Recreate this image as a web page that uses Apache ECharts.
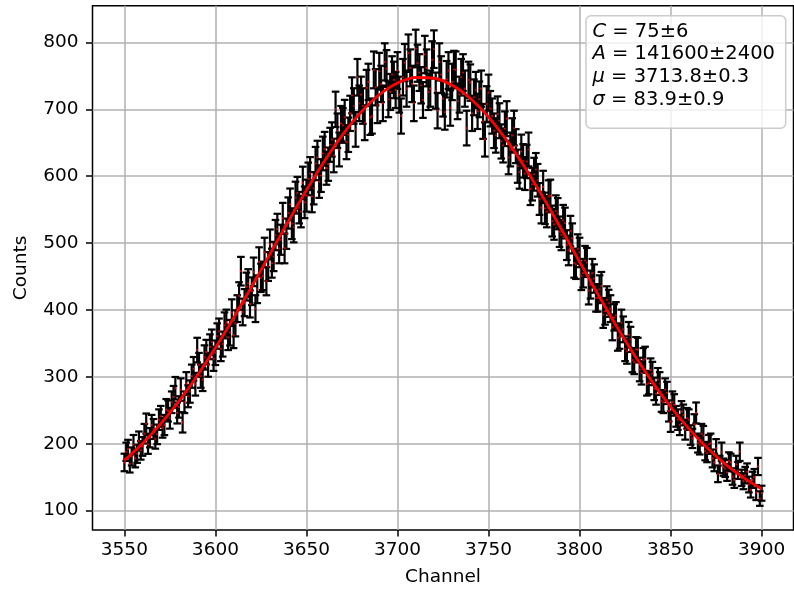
<!DOCTYPE html>
<html>
<head>
<meta charset="utf-8">
<script src="https://cdn.jsdelivr.net/npm/echarts@6/dist/echarts.min.js"></script>
<style>html,body{margin:0;padding:0;background:#fff;}#c{width:794px;height:593px;}</style>
</head>
<body>
<div id="c"></div>
<script>
// Channel range (one point per channel)
const firstChannel = 3550;
const lastChannel = 3900;
// Counts, rows of 10 channels starting at 3550, 3560, ...
const counts = [
172,188,192,170,181,199,178,185,204,190,
196,215,230,199,209,228,222,207,214,236,
241,224,228,251,249,238,262,270,283,246,
255,281,232,262,290,271,278,301,312,289,
340,318,301,296,329,337,318,345,352,327,
336,361,368,342,349,377,381,359,366,396,
362,380,402,421,458,397,411,435,440,409,
428,457,402,431,472,448,451,486,443,465,
498,470,480,512,521,492,505,537,492,514,
545,558,529,524,568,575,553,547,590,561,
571,596,604,570,582,619,628,592,601,634,
641,612,618,647,655,631,700,668,640,679,
676,688,651,662,694,721,705,670,748,709,
722,705,680,732,741,688,690,759,733,706,
757,738,709,771,761,715,726,752,744,729,
758,722,690,748,770,731,784,762,738,709,
791,769,755,736,714,782,762,726,731,774,
790,728,698,771,752,716,696,745,758,702,
741,760,759,712,722,748,755,731,672,744,
740,694,718,729,697,715,731,682,655,708,
725,701,690,668,661,693,683,652,646,671,
686,628,640,661,672,645,615,606,637,623,
604,622,640,581,588,603,610,594,566,553,
584,552,547,570,571,533,528,548,544,517,
512,534,530,497,489,518,507,470,468,491,
486,451,455,474,471,429,438,455,447,418,
418,431,436,393,398,415,410,402,374,389,
392,358,361,381,371,342,338,363,356,325,
322,341,340,311,306,325,327,289,291,310,
305,282,275,296,290,264,262,281,276,249,
233,262,258,241,236,228,248,243,221,238,
236,213,208,229,246,201,198,215,212,189,
186,199,201,178,172,193,155,169,188,165,
163,157,174,172,151,146,169,160,188,149,
144,153,158,139,131,146,150,127,166,118,
126];
// Fit curve
const fitX = [3550,3560,3570,3580,3590,3600,3610,3620,3630,3640,3650,3660,3670,3680,3690,3700,3710,3720,3730,3740,3750,3760,3770,3780,3790,3800,3810,3820,3830,3840,3850,3860,3870,3880,3890,3900];
const fitY = [175.1,200.4,230.0,263.8,301.7,343.4,388.2,435.4,483.9,532.3,579.2,623.2,662.5,695.8,721.8,739.3,747.6,746.5,735.9,716.3,688.5,653.6,613.0,568.2,520.8,472.2,423.9,377.2,333.0,292.2,255.3,222.5,194.0,169.6,149.2,132.4];
const xTicks = [3550,3600,3650,3700,3750,3800,3850,3900];
const yTicks = [100,200,300,400,500,600,700,800];
const fitLines = [
  ['C', ' = 75±6'],
  ['A', ' = 141600±2400'],
  ['μ', ' = 3713.8±0.3'],
  ['σ', ' = 83.9±0.9']
];

const FONT = 'DejaVu Sans';
const channels = [];
for (let c = firstChannel; c <= lastChannel; c++) channels.push(c);
const pts = channels.map((c, i) => [c, counts[i], Math.sqrt(counts[i])]);

const chart = echarts.init(document.getElementById('c'), null, {renderer: 'canvas'});
const axisCommon = {
  type: 'value',
  axisLine: {show: false},
  axisTick: {show: true, inside: false, length: 6.5, lineStyle: {color: '#000', width: 1.5}},
  splitLine: {show: true, lineStyle: {color: '#b0b0b0', width: 1.5}},
  axisLabel: {color: '#000', fontFamily: FONT, fontSize: 18.5, formatter: v => String(v)},
  nameTextStyle: {color: '#000', fontFamily: FONT, fontSize: 18.5},
  nameLocation: 'middle'
};
const option = {
  animation: false,
  backgroundColor: '#fff',
  grid: {left: 92.5, top: 5.7, width: 701, height: 524.3, show: true, borderColor: '#000', borderWidth: 1.5, backgroundColor: 'transparent'},
  xAxis: Object.assign({}, axisCommon, {
    min: 3532.5, max: 3917.5, name: 'Channel', nameGap: 38,
    axisTick: Object.assign({}, axisCommon.axisTick, {customValues: xTicks}),
    axisLabel: Object.assign({}, axisCommon.axisLabel, {customValues: xTicks, margin: 11})
  }),
  yAxis: Object.assign({}, axisCommon, {
    min: 71, max: 855, name: 'Counts', nameGap: 62,
    axisTick: Object.assign({}, axisCommon.axisTick, {customValues: yTicks}),
    axisLabel: Object.assign({}, axisCommon.axisLabel, {customValues: yTicks, margin: 14})
  }),
  series: [
    {
      type: 'custom',
      data: pts,
      encode: {x: 0, y: 1},
      renderItem: function (params, api) {
        const x = api.value(0), y = api.value(1), e = api.value(2);
        const t = api.coord([x, y + e]);
        const b = api.coord([x, y - e]);
        const hw = 3.8;
        const st = {stroke: '#000', lineWidth: 2.2};
        return {type: 'group', children: [
          {type: 'line', shape: {x1: t[0], y1: t[1], x2: b[0], y2: b[1]}, style: st},
          {type: 'line', shape: {x1: t[0] - hw, y1: t[1], x2: t[0] + hw, y2: t[1]}, style: st},
          {type: 'line', shape: {x1: b[0] - hw, y1: b[1], x2: b[0] + hw, y2: b[1]}, style: st}
        ]};
      },
      z: 2
    },
    {
      type: 'scatter',
      data: pts.map(p => [p[0], p[1]]),
      symbol: 'circle', symbolSize: 2.2,
      itemStyle: {color: '#ff0000'},
      z: 3
    },
    {
      type: 'line',
      data: fitX.map((x, i) => [x, fitY[i]]),
      smooth: 0.3, showSymbol: false,
      lineStyle: {color: '#ff0000', width: 2.8},
      z: 4
    }
  ],
  graphic: [
    {type: 'rect', shape: {x: 586, y: 15.7, width: 199.7, height: 112.6, r: 5},
     style: {fill: 'rgba(255,255,255,0.8)', stroke: '#cccccc', lineWidth: 1.5}, z: 100}
  ].concat(fitLines.map((l, i) => ({
    type: 'text', x: 592.5, y: 31.7 + i * 22.67, z: 101,
    style: {
      text: '{i|' + l[0] + '}{n|' + l[1] + '}',
      verticalAlign: 'middle', align: 'left',
      rich: {
        i: {fontFamily: FONT, fontSize: 19.5, fontStyle: 'italic', fill: '#000'},
        n: {fontFamily: FONT, fontSize: 19.5, fill: '#000'}
      }
    }
  })))
};
chart.setOption(option);
</script>
</body>
</html>
